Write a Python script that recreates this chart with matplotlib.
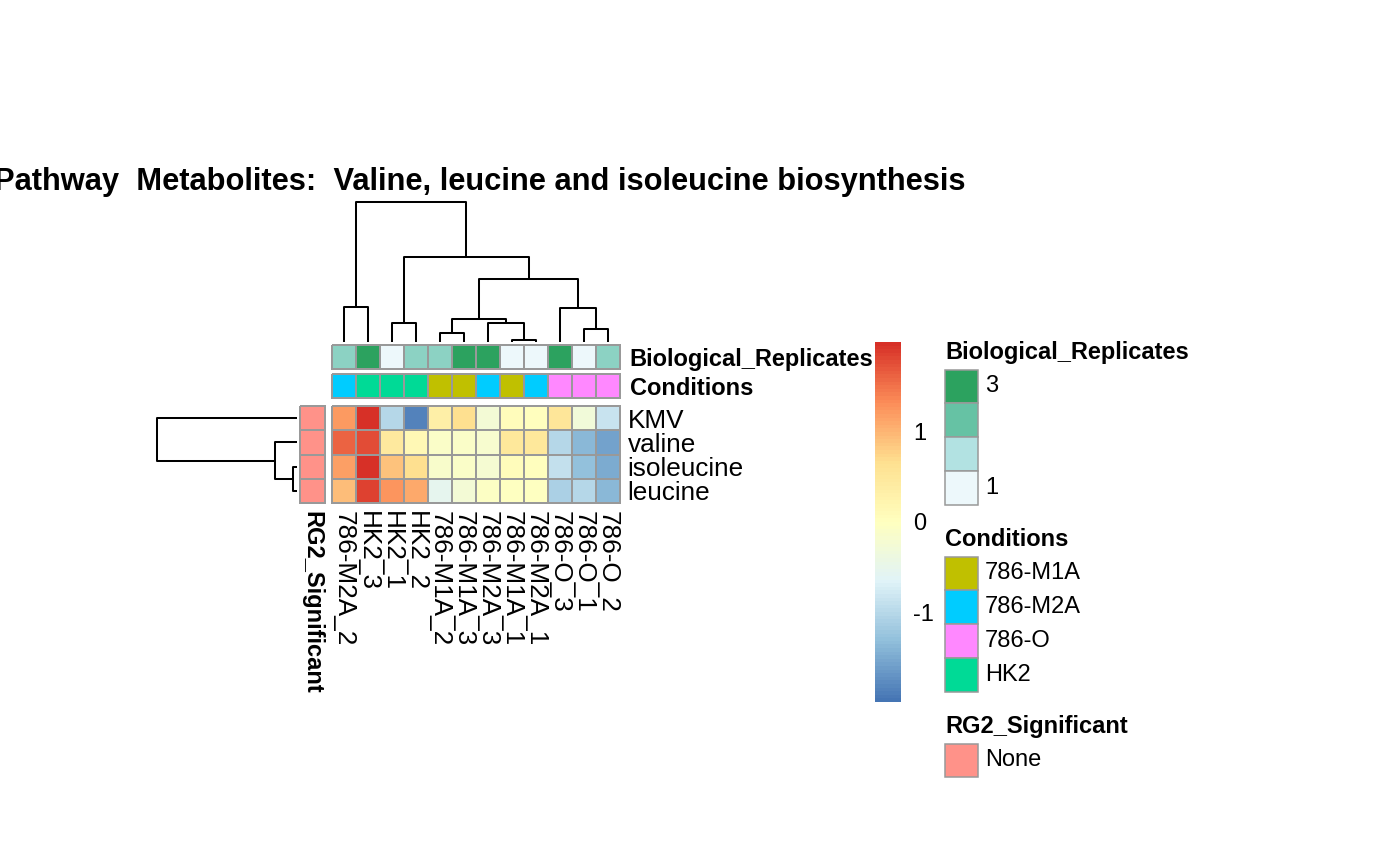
import numpy as np
import matplotlib
matplotlib.use("Agg")
import matplotlib.pyplot as plt
from matplotlib.colors import LinearSegmentedColormap, ListedColormap, Normalize
from matplotlib.patches import Rectangle

plt.rcParams['font.family'] = ['Liberation Sans', 'DejaVu Sans']

# ---------------- data ----------------
title = "Pathway  Metabolites:  Valine, leucine and isoleucine biosynthesis"
samples = ["786-M2A_2", "HK2_3", "HK2_1", "HK2_2", "786-M1A_2", "786-M1A_3",
           "786-M2A_3", "786-M1A_1", "786-M2A_1", "786-O_3", "786-O_1", "786-O_2"]
metabolites = ["KMV", "valine", "isoleucine", "leucine"]
conditions = ["786-M2A", "HK2", "HK2", "HK2", "786-M1A", "786-M1A",
              "786-M2A", "786-M1A", "786-M2A", "786-O", "786-O", "786-O"]
replicates = [2, 3, 1, 2, 2, 3, 3, 1, 1, 3, 1, 2]
rg2_significant = ["None", "None", "None", "None"]

kmv = [1.20, 1.95, -1.00, -1.85, 0.35, 0.65, -0.25, 0.05, 0.00, 0.55, -0.30, -0.85]
valine = [1.60, 1.75, 0.45, 0.15, -0.10, -0.08, -0.18, 0.50, 0.48, -1.00, -1.35, -1.55]
isoleucine = [1.15, 1.98, 0.90, 0.65, -0.12, -0.10, -0.22, 0.05, 0.02, -0.90, -1.30, -1.48]
leucine = [0.95, 1.85, 1.25, 1.10, -0.55, -0.25, -0.05, -0.03, -0.02, -1.10, -1.00, -1.38]

# dendrogram merges: (left node, right node, height)
col_merges = [(7, 8, 2.0), (4, 5, 8.7), (10, 11, 13.0), (2, 3, 18.7), (6, 12, 19.3),
              (13, 16, 23.3), (9, 14, 33.7), (0, 1, 35.3), (17, 18, 63.0),
              (15, 20, 85.3), (19, 21, 139.7)]
row_merges = [(2, 3, 4.3), (1, 4, 22.0), (0, 5, 139.7)]

cond_levels = ["786-M1A", "786-M2A", "786-O", "HK2"]
cond_colors = ["#C0C000", "#00CCFF", "#FF88FF", "#00DA96"]
rep_colors = ["#EDF8FB", "#B2E2E2", "#66C2A4", "#2CA25F"]
rg2_colors = ["#FF9289"]
heat_colors = ["#4575B4", "#91BFDB", "#E0F3F8", "#FFFFBF", "#FEE090", "#FC8D59", "#D73027"]

# ---------------- setup ----------------
W, H = 1400, 865
fig = plt.figure(figsize=(W / 100, H / 100), dpi=100)
GRID = "#999999"
LW = 1.1


def px_axes(x0, y0, x1, y1, **kw):
    return fig.add_axes([x0 / W, 1 - y1 / H, (x1 - x0) / W, (y1 - y0) / H], **kw)


def clean(ax):
    for s in ax.spines.values():
        s.set_visible(False)
    ax.set_xticks([])
    ax.set_yticks([])


data = np.array([kmv, valine, isoleucine, leucine])
m = np.abs(data).max()
heat_cmap = LinearSegmentedColormap.from_list("hm", heat_colors).resampled(100)
norm = Normalize(-m, m)

ncol, nrow = len(samples), len(metabolites)
HX0, HX1 = 332, 620
HY0, HY1 = 406, 503

# heatmap
ax_hm = px_axes(HX0, HY0, HX1, HY1)
mesh = ax_hm.pcolormesh(np.arange(ncol + 1), np.arange(nrow + 1), data, cmap=heat_cmap,
                        norm=norm, edgecolors=GRID, linewidth=LW)
mesh.set_clip_on(False)
ax_hm.set_xlim(0, ncol)
ax_hm.set_ylim(nrow, 0)
clean(ax_hm)
ax_hm.set_xticks(np.arange(ncol) + 0.5)
ax_hm.set_xticklabels(samples, rotation=270, fontsize=18.8)
ax_hm.yaxis.tick_right()
ax_hm.set_yticks(np.arange(nrow) + 0.5)
ax_hm.set_yticklabels(metabolites, fontsize=18.8)
ax_hm.tick_params(axis='x', length=0, pad=6.0)
ax_hm.tick_params(axis='y', length=0, pad=5.5)

# column annotations
rep_cmap = LinearSegmentedColormap.from_list("rep", rep_colors)
ax_rep = px_axes(HX0, 345, HX1, 369)
mr = ax_rep.pcolormesh(np.arange(ncol + 1), [0, 1], np.array([replicates]), cmap=rep_cmap,
                       vmin=min(replicates), vmax=max(replicates), edgecolors=GRID, linewidth=LW)
mr.set_clip_on(False)
ax_rep.set_xlim(0, ncol)
ax_rep.set_ylim(1, 0)
clean(ax_rep)

cond_idx = np.array([[cond_levels.index(c) for c in conditions]])
ax_cond = px_axes(HX0, 374, HX1, 398)
mc = ax_cond.pcolormesh(np.arange(ncol + 1), [0, 1], cond_idx, cmap=ListedColormap(cond_colors),
                        vmin=-0.5, vmax=len(cond_levels) - 0.5, edgecolors=GRID, linewidth=LW)
mc.set_clip_on(False)
ax_cond.set_xlim(0, ncol)
ax_cond.set_ylim(1, 0)
clean(ax_cond)

for ax, name in [(ax_rep, "Biological_Replicates"), (ax_cond, "Conditions")]:
    ax.yaxis.tick_right()
    ax.set_yticks([0.5])
    ax.set_yticklabels([name], fontsize=17, fontweight='bold')
    ax.tick_params(axis='y', length=0, pad=7.0)

# row annotation
ax_rg = px_axes(299.5, HY0, 324.5, HY1)
mg = ax_rg.pcolormesh([0, 1], np.arange(nrow + 1), np.zeros((nrow, 1)),
                      cmap=ListedColormap(rg2_colors), vmin=0, vmax=1, edgecolors=GRID, linewidth=LW)
mg.set_clip_on(False)
ax_rg.set_xlim(0, 1)
ax_rg.set_ylim(nrow, 0)
clean(ax_rg)
ax_rg.set_xticks([0.5])
ax_rg.set_xticklabels(["RG2_Significant"], rotation=270, fontsize=17, fontweight='bold')
ax_rg.tick_params(axis='x', length=0, pad=6.0)


# dendrograms
def dendro_segments(merges, n):
    pos = {i: i + 0.5 for i in range(n)}
    hgt = {i: 0.0 for i in range(n)}
    segs = []
    for k, (a, b, h) in enumerate(merges):
        node = n + k
        segs.append(([pos[a], pos[a], pos[b], pos[b]], [hgt[a], h, h, hgt[b]]))
        pos[node] = (pos[a] + pos[b]) / 2
        hgt[node] = h
    return segs


DLW = 1.45
ax_cd = px_axes(HX0, 202, HX1, 342)
for xs, ys in dendro_segments(col_merges, ncol):
    ax_cd.plot(xs, ys, color="black", lw=DLW, clip_on=False, solid_capstyle='butt')
ax_cd.set_xlim(0, ncol)
ax_cd.set_ylim(0, max(h for _, _, h in col_merges))
ax_cd.axis('off')

ax_rd = px_axes(157, HY0, 297, HY1)
for ys, xs in dendro_segments(row_merges, nrow):
    ax_rd.plot(xs, ys, color="black", lw=DLW, clip_on=False, solid_capstyle='butt')
ax_rd.set_ylim(nrow, 0)
ax_rd.set_xlim(max(h for _, _, h in row_merges), 0)
ax_rd.axis('off')

# title
fig.text(480 / W, 1 - 182 / H, title, ha='center', va='center', fontsize=22.2, fontweight='bold')

# colorbar
ax_cb = px_axes(875, 342, 901, 702)
breaks = np.linspace(-m, m, 101)
mids = (breaks[:-1] + breaks[1:]) / 2
ax_cb.pcolormesh([0, 1], breaks, mids[:, None], cmap=heat_cmap, norm=norm)
ax_cb.set_xlim(0, 1)
ax_cb.set_ylim(-m, m)
for s in ax_cb.spines.values():
    s.set_visible(False)
ax_cb.set_xticks([])
ax_cb.yaxis.tick_right()
ax_cb.set_yticks([-1, 0, 1])
ax_cb.set_yticklabels(["-1", "0", "1"], fontsize=17)
ax_cb.tick_params(axis='y', length=0, pad=8.5)

# legends (overlay in pixel coordinates)
ax_l = fig.add_axes([0, 0, 1, 1], zorder=-1)
ax_l.set_xlim(0, W)
ax_l.set_ylim(H, 0)
ax_l.axis('off')
LX, BW, BH = 945, 32.5, 33.75
TX = 985


def legend_block(y_title, name, colors, labels, label_rows):
    ax_l.text(LX, y_title, name, fontsize=17, fontweight='bold', va='center', ha='left')
    y0 = y_title + 17.5
    for i, c in enumerate(colors):
        ax_l.add_patch(Rectangle((LX, y0 + i * BH), BW, BH, facecolor=c, edgecolor=GRID, lw=LW))
    for lab, r in zip(labels, label_rows):
        ax_l.text(TX, y0 + r * BH + BH / 2, lab, fontsize=17, va='center', ha='left')


legend_block(352, "Biological_Replicates", rep_colors[::-1],
             [str(max(replicates)), str(min(replicates))], [0, 3])
legend_block(539, "Conditions", cond_colors, cond_levels, range(len(cond_levels)))
legend_block(726, "RG2_Significant", rg2_colors, ["None"], [0])

fig.savefig("out.png", dpi=100)
